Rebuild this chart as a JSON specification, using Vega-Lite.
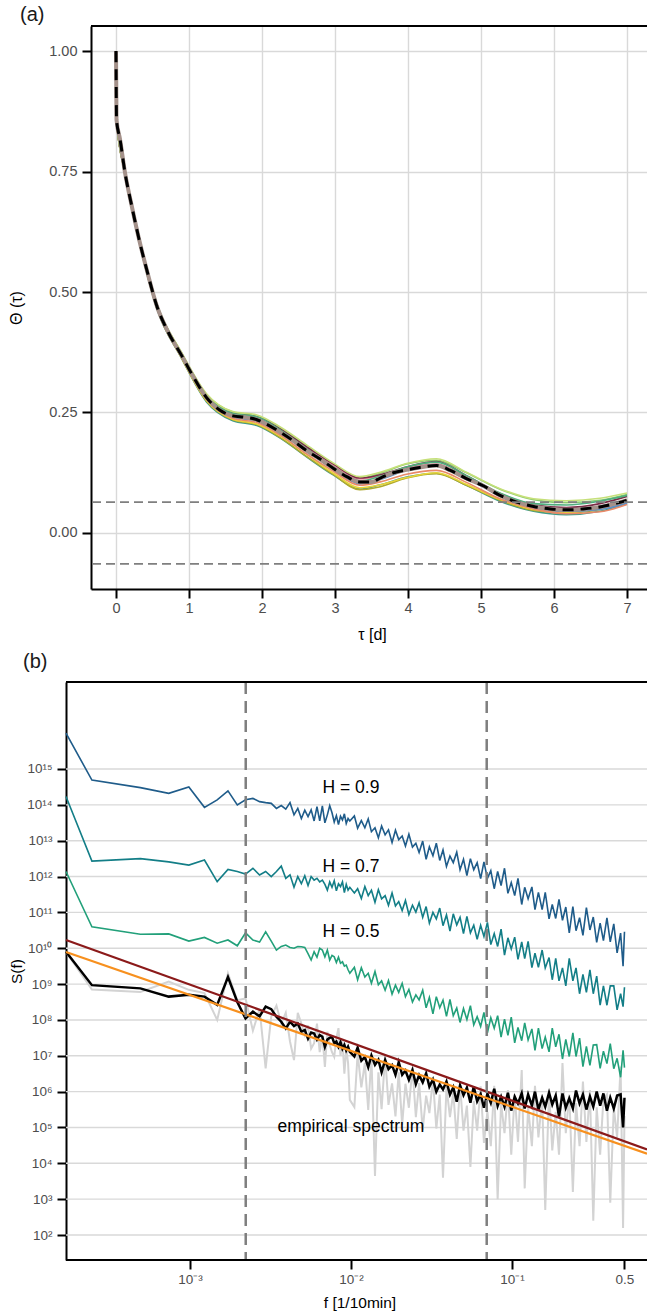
{
"$schema": "https://vega.github.io/schema/vega-lite/v6.json",
"padding": {"left": 8, "top": 5, "right": 0, "bottom": 0},
"config": {
 "font": "Liberation Sans",
 "view": {"stroke": null},
 "axis": {"domainColor": "#000000", "domainWidth": 2, "tickColor": "#000000", "tickWidth": 2, "tickSize": 9, "labelColor": "#4D4D4D", "titleColor": "#000000", "titleFontWeight": "normal", "gridColor": "#D9D9D9", "gridWidth": 1.4, "labelFont": "Liberation Sans", "titleFont": "Liberation Sans"},
 "title": {"fontWeight": "normal", "anchor": "start", "frame": "group", "color": "#1A1A1A", "fontSize": 20, "font": "Liberation Sans", "baseline": "alphabetic"}
},
"datasets": {
 "acfBase": [{"t":0,"v":1.0},{"t":0.007,"v":0.857},{"t":0.055,"v":0.817},{"t":0.123,"v":0.748},{"t":0.215,"v":0.679},{"t":0.315,"v":0.61},{"t":0.43,"v":0.541},{"t":0.557,"v":0.472},{"t":0.717,"v":0.416},{"t":0.9,"v":0.368},{"t":1.06,"v":0.324},{"t":1.24,"v":0.281},{"t":1.42,"v":0.255},{"t":1.6,"v":0.243},{"t":1.77,"v":0.24},{"t":1.93,"v":0.235},{"t":2.06,"v":0.226},{"t":2.25,"v":0.209},{"t":2.43,"v":0.191},{"t":2.61,"v":0.171},{"t":2.79,"v":0.154},{"t":2.98,"v":0.134},{"t":3.16,"v":0.117},{"t":3.34,"v":0.106},{"t":3.5,"v":0.106},{"t":3.62,"v":0.114},{"t":3.8,"v":0.125},{"t":3.98,"v":0.131},{"t":4.16,"v":0.136},{"t":4.39,"v":0.14},{"t":4.58,"v":0.13},{"t":4.8,"v":0.113},{"t":5.03,"v":0.098},{"t":5.26,"v":0.078},{"t":5.49,"v":0.064},{"t":5.72,"v":0.055},{"t":5.95,"v":0.05},{"t":6.17,"v":0.048},{"t":6.4,"v":0.05},{"t":6.63,"v":0.054},{"t":6.86,"v":0.062},{"t":7.0,"v":0.068}],
 "acfEns": [
  {"t":0,"m1":1.0,"m2":1.0,"m3":1.0,"m4":1.0,"m5":1.0,"m6":1.0,"m7":1.0,"m8":1.0,"m9":1.0,"m10":1.0},
  {"t":0.007,"m1":0.857,"m2":0.857,"m3":0.857,"m4":0.857,"m5":0.857,"m6":0.857,"m7":0.857,"m8":0.857,"m9":0.857,"m10":0.857},
  {"t":0.123,"m1":0.745,"m2":0.75,"m3":0.746,"m4":0.749,"m5":0.749,"m6":0.747,"m7":0.748,"m8":0.747,"m9":0.749,"m10":0.75},
  {"t":0.315,"m1":0.606,"m2":0.613,"m3":0.607,"m4":0.611,"m5":0.612,"m6":0.608,"m7":0.609,"m8":0.609,"m9":0.611,"m10":0.613},
  {"t":0.557,"m1":0.467,"m2":0.476,"m3":0.468,"m4":0.474,"m5":0.475,"m6":0.469,"m7":0.471,"m8":0.47,"m9":0.474,"m10":0.476},
  {"t":0.9,"m1":0.362,"m2":0.373,"m3":0.363,"m4":0.37,"m5":0.372,"m6":0.363,"m7":0.366,"m8":0.365,"m9":0.371,"m10":0.374},
  {"t":1.24,"m1":0.272,"m2":0.287,"m3":0.274,"m4":0.284,"m5":0.286,"m6":0.275,"m7":0.279,"m8":0.277,"m9":0.285,"m10":0.289},
  {"t":1.6,"m1":0.233,"m2":0.251,"m3":0.235,"m4":0.247,"m5":0.248,"m6":0.236,"m7":0.24,"m8":0.238,"m9":0.248,"m10":0.252},
  {"t":1.93,"m1":0.223,"m2":0.242,"m3":0.225,"m4":0.238,"m5":0.241,"m6":0.226,"m7":0.232,"m8":0.229,"m9":0.241,"m10":0.245},
  {"t":2.25,"m1":0.197,"m2":0.218,"m3":0.198,"m4":0.213,"m5":0.216,"m6":0.201,"m7":0.207,"m8":0.203,"m9":0.214,"m10":0.22},
  {"t":2.61,"m1":0.158,"m2":0.181,"m3":0.159,"m4":0.176,"m5":0.179,"m6":0.163,"m7":0.17,"m8":0.164,"m9":0.175,"m10":0.183},
  {"t":2.98,"m1":0.12,"m2":0.143,"m3":0.121,"m4":0.14,"m5":0.143,"m6":0.124,"m7":0.132,"m8":0.128,"m9":0.137,"m10":0.145},
  {"t":3.34,"m1":0.091,"m2":0.114,"m3":0.09,"m4":0.112,"m5":0.114,"m6":0.094,"m7":0.102,"m8":0.099,"m9":0.108,"m10":0.117},
  {"t":3.62,"m1":0.1,"m2":0.124,"m3":0.096,"m4":0.119,"m5":0.121,"m6":0.1,"m7":0.111,"m8":0.106,"m9":0.118,"m10":0.126},
  {"t":3.98,"m1":0.116,"m2":0.143,"m3":0.114,"m4":0.135,"m5":0.137,"m6":0.115,"m7":0.13,"m8":0.122,"m9":0.137,"m10":0.144},
  {"t":4.39,"m1":0.124,"m2":0.151,"m3":0.123,"m4":0.143,"m5":0.148,"m6":0.125,"m7":0.14,"m8":0.13,"m9":0.147,"m10":0.154},
  {"t":4.8,"m1":0.099,"m2":0.125,"m3":0.099,"m4":0.115,"m5":0.119,"m6":0.101,"m7":0.114,"m8":0.105,"m9":0.119,"m10":0.126},
  {"t":5.26,"m1":0.066,"m2":0.091,"m3":0.068,"m4":0.079,"m5":0.082,"m6":0.07,"m7":0.078,"m8":0.071,"m9":0.083,"m10":0.092},
  {"t":5.72,"m1":0.045,"m2":0.069,"m3":0.047,"m4":0.053,"m5":0.058,"m6":0.049,"m7":0.053,"m8":0.05,"m9":0.061,"m10":0.071},
  {"t":6.17,"m1":0.038,"m2":0.063,"m3":0.042,"m4":0.044,"m5":0.053,"m6":0.043,"m7":0.045,"m8":0.04,"m9":0.058,"m10":0.067},
  {"t":6.63,"m1":0.045,"m2":0.068,"m3":0.049,"m4":0.051,"m5":0.061,"m6":0.052,"m7":0.049,"m8":0.044,"m9":0.066,"m10":0.072},
  {"t":7.0,"m1":0.061,"m2":0.08,"m3":0.064,"m4":0.066,"m5":0.076,"m6":0.068,"m7":0.062,"m8":0.059,"m9":0.078,"m10":0.083}
 ],
 "spec": [
  {"f":0.0001698,"a":1e16,"b":1.7e14,"c":1.38e12,"k":7.94e9,"g":7.94e9},
  {"f":0.000246,"a":4.9e14,"b":2.69e12,"c":3.98e10,"k":9.33e8,"g":7.08e8},
  {"f":0.000492,"a":3.02e14,"b":3.16e12,"c":2.45e10,"k":7.59e8,"g":6.03e8},
  {"f":0.000738,"a":2.09e14,"b":2.57e12,"c":2.51e10,"k":4.47e8,"g":1.17e9},
  {"f":0.000984,"a":3.16e14,"b":2.09e12,"c":1.58e10,"k":5.01e8,"g":6.92e8},
  {"f":0.00123,"a":8.51e13,"b":2.88e12,"c":2.0e10,"k":4.47e8,"g":5.62e8},
  {"f":0.001476,"a":1.38e14,"b":7.24e11,"c":1.38e10,"k":2.63e8,"g":1.0e8},
  {"f":0.001722,"a":2.45e14,"b":1.58e12,"c":1.7e10,"k":1.58e9,"g":2.0e9},
  {"f":0.001968,"a":1.0e14,"b":1.38e12,"c":1.17e10,"k":3.16e8,"g":3.55e8},
  {"f":0.002214,"a":1.38e14,"b":1.17e12,"c":2.69e10,"k":1.1e8,"g":3.98e8},
  {"f":0.00246,"a":1.51e14,"b":1.7e12,"c":1.7e10,"k":1.7e8,"g":5.01e7},
  {"f":0.002706,"a":1.23e14,"b":1.1e12,"c":1.48e10,"k":1.26e8,"g":2.0e8},
  {"f":0.002952,"a":1.15e14,"b":1.38e12,"c":2.88e10,"k":2.34e8,"g":4.47e6},
  {"f":0.003198,"a":1.1e14,"b":1.0e12,"c":1.58e10,"k":2.0e8,"g":1.26e8},
  {"f":0.003444,"a":7.94e13,"b":1.38e12,"c":8.91e9,"k":1.23e8,"g":2.51e8},
  {"f":0.00369,"a":9.55e13,"b":1.95e12,"c":1.12e10,"k":8.91e7,"g":7.94e7},
  {"f":0.003936,"a":7.59e13,"b":8.91e11,"c":1.23e10,"k":5.75e7,"g":1.58e8},
  {"f":0.004182,"a":1.15e14,"b":1.12e12,"c":1.05e10,"k":8.91e7,"g":2.51e7},
  {"f":0.004428,"a":5.25e13,"b":5.01e11,"c":1.0e10,"k":6.76e7,"g":7.59e6},
  {"f":0.004674,"a":7.94e13,"b":1.0e12,"c":1.12e10,"k":7.94e7,"g":1.58e8},
  {"f":0.00492,"a":4.17e13,"b":6.31e11,"c":1.1e10,"k":4.68e7,"g":7.94e7},
  {"f":0.005166,"a":7.08e13,"b":1.05e12,"c":1.05e10,"k":5.25e7,"g":3.8e7},
  {"f":0.005412,"a":4.68e13,"b":5.62e11,"c":7.08e9,"k":3.02e7,"g":7.08e7},
  {"f":0.005658,"a":7.24e13,"b":1.0e12,"c":4.68e9,"k":4.47e7,"g":1.58e7},
  {"f":0.005904,"a":3.55e13,"b":7.94e11,"c":7.94e9,"k":4.17e7,"g":2.24e7},
  {"f":0.00615,"a":8.91e13,"b":8.91e11,"c":5.62e9,"k":2.82e7,"g":7.94e7},
  {"f":0.006396,"a":3.55e13,"b":7.08e11,"c":1.0e10,"k":3.8e7,"g":1.26e7},
  {"f":0.006642,"a":9.33e13,"b":7.94e11,"c":8.91e9,"k":3.39e7,"g":3.98e7},
  {"f":0.006888,"a":3.16e13,"b":6.03e11,"c":5.75e9,"k":1.78e7,"g":4.9e6},
  {"f":0.007134,"a":5.25e13,"b":4.17e11,"c":8.91e9,"k":2.82e7,"g":4.68e7},
  {"f":0.00738,"a":9.55e13,"b":7.08e11,"c":4.68e9,"k":3.16e7,"g":2.0e7},
  {"f":0.007626,"a":6.03e13,"b":5.01e11,"c":6.31e9,"k":3.39e7,"g":1.26e7},
  {"f":0.007872,"a":3.31e13,"b":7.59e11,"c":5.75e9,"k":2.24e7,"g":9.33e6},
  {"f":0.008118,"a":5.01e13,"b":3.98e11,"c":3.98e9,"k":2.51e7,"g":3.16e7},
  {"f":0.008364,"a":2.82e13,"b":6.31e11,"c":5.62e9,"k":1.78e7,"g":5.89e7},
  {"f":0.00861,"a":4.79e13,"b":5.25e11,"c":3.8e9,"k":2.4e7,"g":1.0e7},
  {"f":0.008856,"a":3.8e13,"b":7.08e11,"c":4.17e9,"k":1.58e7,"g":2.51e7},
  {"f":0.009102,"a":5.62e13,"b":3.55e11,"c":3.16e9,"k":2.0e7,"g":3.16e6},
  {"f":0.009348,"a":3.02e13,"b":6.03e11,"c":3.39e9,"k":1.41e7,"g":1.58e7},
  {"f":0.009594,"a":4.17e13,"b":4.17e11,"c":2.51e9,"k":1.78e7,"g":6.31e6},
  {"f":0.00984,"a":3.55e13,"b":5.01e11,"c":2.0e9,"k":1.29e7,"g":5.89e5},
  {"f":0.0105,"a":4.9e13,"b":3.47e11,"c":2.95e9,"k":9.55e6,"g":3.72e5},
  {"f":0.011,"a":2.24e13,"b":4.57e11,"c":1.32e9,"k":1.7e7,"g":1.15e7},
  {"f":0.0116,"a":3.63e13,"b":2.45e11,"c":2.88e9,"k":7.24e6,"g":1.32e6},
  {"f":0.0122,"a":2.29e13,"b":5.25e11,"c":1.58e9,"k":9.33e6,"g":6.31e6},
  {"f":0.0128,"a":4.07e13,"b":2.95e11,"c":2.0e9,"k":4.79e6,"g":3.09e5},
  {"f":0.0134,"a":1.78e13,"b":4.17e11,"c":1.05e9,"k":1.02e7,"g":9.55e6},
  {"f":0.0141,"a":2.29e13,"b":1.91e11,"c":2.24e9,"k":5.62e6,"g":4.47e3},
  {"f":0.0148,"a":1.2e13,"b":4.27e11,"c":9.55e8,"k":7.76e6,"g":3.47e6},
  {"f":0.0155,"a":2.57e13,"b":2.4e11,"c":1.23e9,"k":3.47e6,"g":3.24e5},
  {"f":0.0163,"a":1.45e13,"b":2.95e11,"c":6.76e8,"k":7.59e6,"g":1.0e7},
  {"f":0.0171,"a":2.0e13,"b":1.58e11,"c":1.26e9,"k":4.27e6,"g":4.27e5},
  {"f":0.018,"a":8.91e12,"b":3.47e11,"c":5.25e8,"k":5.5e6,"g":1.7e6},
  {"f":0.0189,"a":1.95e13,"b":1.51e11,"c":9.33e8,"k":2.95e6,"g":2.04e5},
  {"f":0.0198,"a":1.07e13,"b":2.0e11,"c":5.89e8,"k":6.61e6,"g":3.47e6},
  {"f":0.0208,"a":1.35e13,"b":1.12e11,"c":1.05e9,"k":2.95e6,"g":1.2e5},
  {"f":0.0218,"a":7.08e12,"b":2.14e11,"c":4.47e8,"k":3.89e6,"g":1.66e6},
  {"f":0.0229,"a":1.51e13,"b":8.71e10,"c":7.08e8,"k":2.14e6,"g":3.55e5},
  {"f":0.0241,"a":6.61e12,"b":1.58e11,"c":3.16e8,"k":3.98e6,"g":4.79e6},
  {"f":0.0253,"a":8.51e12,"b":1.02e11,"c":5.01e8,"k":1.62e6,"g":1.95e5},
  {"f":0.0265,"a":4.68e12,"b":1.86e11,"c":3.63e8,"k":2.88e6,"g":1.74e6},
  {"f":0.0279,"a":9.77e12,"b":7.24e10,"c":6.76e8,"k":1.82e6,"g":8.71e4},
  {"f":0.0293,"a":3.02e12,"b":1.45e11,"c":2.19e8,"k":3.24e6,"g":7.76e5},
  {"f":0.0307,"a":6.76e12,"b":5.01e10,"c":4.27e8,"k":1.38e6,"g":2.51e5},
  {"f":0.0323,"a":3.8e12,"b":1.0e11,"c":1.48e8,"k":2.19e6,"g":2.24e6},
  {"f":0.0339,"a":8.51e12,"b":6.61e10,"c":4.47e8,"k":1.0e6,"g":9.33e4},
  {"f":0.0356,"a":2.82e12,"b":1.32e11,"c":2.19e8,"k":1.58e6,"g":8.32e5},
  {"f":0.0373,"a":5.5e12,"b":4.27e10,"c":3.55e8,"k":1.15e6,"g":3.98e3},
  {"f":0.0392,"a":1.91e12,"b":8.51e10,"c":1.26e8,"k":1.91e6,"g":1.35e6},
  {"f":0.0412,"a":3.72e12,"b":3.02e10,"c":3.72e8,"k":8.32e5,"g":1.95e5},
  {"f":0.0432,"a":2.45e12,"b":9.12e10,"c":1.32e8,"k":1.32e6,"g":9.33e5},
  {"f":0.0454,"a":4.79e12,"b":4.47e10,"c":2.14e8,"k":5.25e5,"g":4.79e4},
  {"f":0.0476,"a":1.55e12,"b":7.24e10,"c":8.51e7,"k":1.51e6,"g":1.55e6},
  {"f":0.05,"a":3.02e12,"b":2.57e10,"c":2.09e8,"k":7.94e5,"g":8.13e4},
  {"f":0.0525,"a":1.07e12,"b":7.76e10,"c":1.02e8,"k":1.29e6,"g":4.07e5},
  {"f":0.0552,"a":3.16e12,"b":2.69e10,"c":2.51e8,"k":4.9e5,"g":7.94e3},
  {"f":0.0579,"a":1.55e12,"b":4.37e10,"c":7.24e7,"k":1.38e6,"g":5.5e5},
  {"f":0.0608,"a":2.45e12,"b":1.78e10,"c":1.23e8,"k":5.37e5,"g":8.13e4},
  {"f":0.0639,"a":8.71e11,"b":4.37e10,"c":6.61e7,"k":8.51e5,"g":1.41e6},
  {"f":0.067,"a":2.57e12,"b":2.14e10,"c":1.62e8,"k":3.55e5,"g":3.72e4},
  {"f":0.0704,"a":8.91e11,"b":5.25e10,"c":4.37e7,"k":8.71e5,"g":2.75e5},
  {"f":0.0739,"a":1.45e12,"b":1.26e10,"c":1.15e8,"k":4.9e5,"g":3.02e4},
  {"f":0.0776,"a":4.57e11,"b":2.57e10,"c":5.89e7,"k":1.2e6,"g":1.45e6},
  {"f":0.0815,"a":1.38e12,"b":1.12e10,"c":1.32e8,"k":3.98e5,"g":1.0e3},
  {"f":0.0856,"a":5.62e11,"b":3.39e10,"c":3.31e7,"k":7.24e5,"g":4.79e5},
  {"f":0.0899,"a":1.7e12,"b":6.46e9,"c":1.05e8,"k":3.8e5,"g":6.92e4},
  {"f":0.0944,"a":3.39e11,"b":1.95e10,"c":3.72e7,"k":9.33e5,"g":1.1e6},
  {"f":0.099,"a":6.76e11,"b":9.55e9,"c":1.2e8,"k":2.95e5,"g":1.74e4},
  {"f":0.104,"a":2.95e11,"b":2.04e10,"c":2.29e7,"k":7.24e5,"g":8.32e5},
  {"f":0.109,"a":8.91e11,"b":4.9e9,"c":6.17e7,"k":4.68e5,"g":3.98e4},
  {"f":0.115,"a":1.66e11,"b":1.51e10,"c":2.63e7,"k":8.91e5,"g":3.98e6},
  {"f":0.12,"a":5.01e11,"b":5.13e9,"c":8.32e7,"k":3.39e5,"g":2.0e3},
  {"f":0.126,"a":2.4e11,"b":1.55e10,"c":2.75e7,"k":8.32e5,"g":3.63e5},
  {"f":0.133,"a":5.13e11,"b":2.88e9,"c":5.62e7,"k":4.07e5,"g":3.02e4},
  {"f":0.139,"a":1.2e11,"b":7.24e9,"c":1.41e7,"k":1.0e6,"g":1.45e6},
  {"f":0.146,"a":3.63e11,"b":2.95e9,"c":5.89e7,"k":3.16e5,"g":5.25e4},
  {"f":0.154,"a":1.2e11,"b":8.91e9,"c":1.58e7,"k":6.76e5,"g":6.31e5},
  {"f":0.161,"a":3.63e11,"b":2.82e9,"c":3.31e7,"k":3.8e5,"g":5.01e2},
  {"f":0.17,"a":6.61e10,"b":5.5e9,"c":1.29e7,"k":9.33e5,"g":1.1e6},
  {"f":0.178,"a":1.66e11,"b":1.32e9,"c":5.89e7,"k":4.37e5,"g":2.29e4},
  {"f":0.187,"a":6.76e10,"b":5.25e9,"c":1.78e7,"k":7.76e5,"g":2.75e5},
  {"f":0.196,"a":2.29e11,"b":1.23e9,"c":3.98e7,"k":2.0e5,"g":1.74e4},
  {"f":0.206,"a":6.03e10,"b":2.82e9,"c":8.13e6,"k":8.91e5,"g":6.31e6},
  {"f":0.216,"a":1.41e11,"b":8.91e8,"c":2.88e7,"k":3.55e5,"g":6.92e4},
  {"f":0.227,"a":2.69e10,"b":5.25e9,"c":9.55e6,"k":6.46e5,"g":8.32e5},
  {"f":0.239,"a":1.45e11,"b":1.23e9,"c":4.37e7,"k":3.39e5,"g":1.58e3},
  {"f":0.25,"a":3.09e10,"b":2.82e9,"c":9.55e6,"k":1.07e6,"g":4.79e5},
  {"f":0.263,"a":7.08e10,"b":5.37e8,"c":3.09e7,"k":4.68e5,"g":3.02e4},
  {"f":0.276,"a":2.29e10,"b":1.86e9,"c":5.01e6,"k":8.32e5,"g":1.91e6},
  {"f":0.29,"a":1.35e11,"b":5.89e8,"c":1.82e7,"k":3.16e5,"g":3.98e4},
  {"f":0.305,"a":3.24e10,"b":2.51e9,"c":5.37e6,"k":7.24e5,"g":1.1e6},
  {"f":0.32,"a":7.41e10,"b":5.37e8,"c":2.0e7,"k":3.8e5,"g":2.51e2},
  {"f":0.336,"a":1.45e10,"b":1.66e9,"c":2.04e7,"k":1.0e6,"g":3.63e5},
  {"f":0.353,"a":5.01e10,"b":2.57e8,"c":4.47e6,"k":4.07e5,"g":1.74e4},
  {"f":0.37,"a":1.62e10,"b":8.91e8,"c":1.35e7,"k":8.91e5,"g":6.31e5},
  {"f":0.389,"a":7.08e10,"b":2.57e8,"c":6.03e6,"k":2.95e5,"g":8.32e5},
  {"f":0.408,"a":1.51e10,"b":8.91e8,"c":2.19e7,"k":6.76e5,"g":7.94e2},
  {"f":0.429,"a":4.79e10,"b":8.91e8,"c":4.37e6,"k":3.39e5,"g":3.63e5},
  {"f":0.45,"a":7.41e9,"b":1.91e8,"c":8.51e6,"k":7.76e5,"g":5.25e4},
  {"f":0.473,"a":2.63e10,"b":5.37e8,"c":2.51e6,"k":8.32e5,"g":5.01e6},
  {"f":0.49,"a":3.16e9,"b":2.34e8,"c":1.41e7,"k":1.0e5,"g":1.58e2},
  {"f":0.5,"a":2.88e10,"b":8.13e8,"c":4.68e6,"k":6.76e5,"g":2.09e5}
 ]
},
"spacing": 9,
"vconcat": [
 {
  "width": 556,
  "height": 563,
  "title": {"text": "(a)", "dx": -71, "offset": 0},
  "layer": [
   {
    "data": {"name": "acfEns"},
    "transform": [{"fold": ["m1","m2","m3","m4","m5","m6","m7","m8","m9","m10"], "as": ["member", "v"]}],
    "mark": {"type": "line", "interpolate": "monotone", "strokeWidth": 1.6},
    "encoding": {
     "x": {"field": "t", "type": "quantitative", "scale": {"domain": [-0.3425, 7.274], "nice": false, "zero": false},
      "axis": {"values": [0,1,2,3,4,5,6,7], "format": "d", "title": "τ [d]", "titleFontSize": 16, "labelFontSize": 14.5, "labelPadding": 3, "labelFlush": false, "titleX": 281, "titleY": 45, "titleBaseline": "middle", "titleAlign": "center"}},
     "y": {"field": "v", "type": "quantitative", "scale": {"domain": [-0.1162, 1.0519], "nice": false, "zero": false},
      "axis": {"values": [0, 0.25, 0.5, 0.75, 1.0], "format": ".2f", "title": "Θ (τ)", "titleFontSize": 16, "labelFontSize": 14.5, "labelPadding": 5, "labelFlush": false, "titleX": -83, "titleY": 281.5, "titleBaseline": "top", "titleAlign": "center", "titleAngle": -90}},
     "color": {"field": "member", "type": "nominal", "legend": null,
      "scale": {"domain": ["m1","m2","m3","m4","m5","m6","m7","m8","m9","m10"], "range": ["#3E9A8A","#8CCB6E","#AEA92E","#F28CA0","#7B2C47","#E8D53A","#5B8FC9","#E98968","#4FAE7E","#C6E07A"]}}
    }
   },
   {
    "data": {"name": "acfBase"},
    "mark": {"type": "line", "interpolate": "monotone", "color": "#A4918A", "strokeWidth": 4},
    "encoding": {
     "x": {"field": "t", "type": "quantitative", "scale": {"domain": [-0.3425, 7.274], "nice": false, "zero": false}},
     "y": {"field": "v", "type": "quantitative", "scale": {"domain": [-0.1162, 1.0519], "nice": false, "zero": false}}
    }
   },
   {
    "data": {"name": "acfBase"},
    "mark": {"type": "line", "interpolate": "monotone", "color": "#000000", "strokeWidth": 3, "strokeDash": [11, 7]},
    "encoding": {
     "x": {"field": "t", "type": "quantitative", "scale": {"domain": [-0.3425, 7.274], "nice": false, "zero": false}},
     "y": {"field": "v", "type": "quantitative", "scale": {"domain": [-0.1162, 1.0519], "nice": false, "zero": false}}
    }
   },
   {
    "data": {"values": [{"h": 0.064}, {"h": -0.064}]},
    "mark": {"type": "rule", "color": "#7F7F7F", "strokeWidth": 1.8, "strokeDash": [9, 5]},
    "encoding": {
     "y": {"field": "h", "type": "quantitative", "scale": {"domain": [-0.1162, 1.0519], "nice": false, "zero": false}}
    }
   },
   {
    "data": {"values": [{}]},
    "mark": {"type": "rule", "color": "#000000", "strokeWidth": 2},
    "encoding": {"y": {"datum": 1.0519}}
   }
  ]
 },
 {
  "width": 556,
  "height": 578,
  "title": {"text": "(b)", "dx": -68, "offset": 9},
  "layer": [
   {
    "data": {"values": [{"gv": 1e2}, {"gv": 1e3}, {"gv": 1e4}, {"gv": 1e5}, {"gv": 1e6}, {"gv": 1e7}, {"gv": 1e8}, {"gv": 1e9}, {"gv": 1e10}, {"gv": 1e11}, {"gv": 1e12}, {"gv": 1e13}, {"gv": 1e14}, {"gv": 1e15}]},
    "mark": {"type": "rule", "color": "#D9D9D9", "strokeWidth": 1.4},
    "encoding": {
     "x": {"datum": 0.0001698, "type": "quantitative", "scale": {"type": "log", "domain": [0.0002428, 0.69], "nice": false}},
     "x2": {"datum": 0.69},
     "y": {"field": "gv", "type": "quantitative", "scale": {"type": "log", "domain": [20.1, 2.67e17], "nice": false}}
    }
   },
   {
    "data": {"name": "spec"},
    "mark": {"type": "line", "color": "#D3D3D3", "strokeWidth": 2},
    "encoding": {
     "x": {"field": "f", "type": "quantitative", "scale": {"type": "log", "domain": [0.0002428, 0.69], "nice": false},
      "axis": {"values": [0.001, 0.01, 0.1, 0.5], "labelExpr": "datum.value > 0.3 ? '0.5' : '10' + ['⁻³','⁻²','⁻¹'][round(log(datum.value)/LN10) + 3]", "domain": false, "title": "f [1/10min]", "titleFontSize": 15.5, "labelFontSize": 13.5, "labelPadding": 3, "labelFlush": false, "titleX": 268.5, "titleY": 42, "titleBaseline": "middle", "titleAlign": "center"}},
     "y": {"field": "g", "type": "quantitative", "scale": {"type": "log", "domain": [20.1, 2.67e17], "nice": false},
      "axis": {"values": [1e2,1e3,1e4,1e5,1e6,1e7,1e8,1e9,1e10,1e11,1e12,1e13,1e14,1e15], "labelExpr": "'10' + ['²','³','⁴','⁵','⁶','⁷','⁸','⁹','¹⁰','¹¹','¹²','¹³','¹⁴','¹⁵'][round(log(datum.value)/LN10) - 2]", "grid": false, "offset": 25, "title": "S(f)", "titleFontSize": 15.5, "labelFontSize": 13.5, "labelPadding": 5, "labelFlush": false, "titleX": -57, "titleY": 289, "titleBaseline": "top", "titleAlign": "center", "titleAngle": -90}}
    }
   },
   {
    "data": {"name": "spec"},
    "mark": {"type": "line", "color": "#000000", "strokeWidth": 2.5},
    "encoding": {
     "x": {"field": "f", "type": "quantitative", "scale": {"type": "log", "domain": [0.0002428, 0.69], "nice": false}},
     "y": {"field": "k", "type": "quantitative", "scale": {"type": "log", "domain": [20.1, 2.67e17], "nice": false}}
    }
   },
   {
    "data": {"name": "spec"},
    "mark": {"type": "line", "color": "#22A07A", "strokeWidth": 1.6},
    "encoding": {
     "x": {"field": "f", "type": "quantitative", "scale": {"type": "log", "domain": [0.0002428, 0.69], "nice": false}},
     "y": {"field": "c", "type": "quantitative", "scale": {"type": "log", "domain": [20.1, 2.67e17], "nice": false}}
    }
   },
   {
    "data": {"name": "spec"},
    "mark": {"type": "line", "color": "#137E87", "strokeWidth": 1.6},
    "encoding": {
     "x": {"field": "f", "type": "quantitative", "scale": {"type": "log", "domain": [0.0002428, 0.69], "nice": false}},
     "y": {"field": "b", "type": "quantitative", "scale": {"type": "log", "domain": [20.1, 2.67e17], "nice": false}}
    }
   },
   {
    "data": {"name": "spec"},
    "mark": {"type": "line", "color": "#1F5C8A", "strokeWidth": 1.6},
    "encoding": {
     "x": {"field": "f", "type": "quantitative", "scale": {"type": "log", "domain": [0.0002428, 0.69], "nice": false}},
     "y": {"field": "a", "type": "quantitative", "scale": {"type": "log", "domain": [20.1, 2.67e17], "nice": false}}
    }
   },
   {
    "data": {"values": [{"f": 0.0001698, "S": 1.7e10}, {"f": 0.69, "S": 2.45e4}]},
    "mark": {"type": "line", "strokeWidth": 2.2, "color": "#8B1A1A"},
    "encoding": {
     "x": {"field": "f", "type": "quantitative", "scale": {"type": "log", "domain": [0.0002428, 0.69], "nice": false}},
     "y": {"field": "S", "type": "quantitative", "scale": {"type": "log", "domain": [20.1, 2.67e17], "nice": false}}
    }
   },
   {
    "data": {"values": [{"f": 0.0001698, "S": 7.85e9}, {"f": 0.69, "S": 1.86e4}]},
    "mark": {"type": "line", "strokeWidth": 2.2, "color": "#F7901E"},
    "encoding": {
     "x": {"field": "f", "type": "quantitative", "scale": {"type": "log", "domain": [0.0002428, 0.69], "nice": false}},
     "y": {"field": "S", "type": "quantitative", "scale": {"type": "log", "domain": [20.1, 2.67e17], "nice": false}}
    }
   },
   {
    "data": {"values": [{"f": 0.00222}, {"f": 0.0697}]},
    "mark": {"type": "rule", "color": "#7F7F7F", "strokeWidth": 2.5, "strokeDash": [12, 7]},
    "encoding": {
     "x": {"field": "f", "type": "quantitative", "scale": {"type": "log", "domain": [0.0002428, 0.69], "nice": false}}
    }
   },
   {
    "data": {"values": [{"f": 0.01, "S": 3e14, "label": "H = 0.9"}, {"f": 0.01, "S": 1.9e12, "label": "H = 0.7"}, {"f": 0.01, "S": 2.9e10, "label": "H = 0.5"}, {"f": 0.01, "S": 1e5, "label": "empirical spectrum"}]},
    "mark": {"type": "text", "fontSize": 17.5, "color": "#000000", "font": "Liberation Sans"},
    "encoding": {
     "x": {"field": "f", "type": "quantitative", "scale": {"type": "log", "domain": [0.0002428, 0.69], "nice": false}},
     "y": {"field": "S", "type": "quantitative", "scale": {"type": "log", "domain": [20.1, 2.67e17], "nice": false}},
     "text": {"field": "label"}
    }
   },
   {
    "data": {"values": [{"fy": 20.1}, {"fy": 2.67e17}]},
    "mark": {"type": "rule", "color": "#000000", "strokeWidth": 2},
    "encoding": {
     "x": {"datum": 0.0001698, "type": "quantitative", "scale": {"type": "log", "domain": [0.0002428, 0.69], "nice": false}},
     "x2": {"datum": 0.69},
     "y": {"field": "fy", "type": "quantitative", "scale": {"type": "log", "domain": [20.1, 2.67e17], "nice": false}}
    }
   }
  ]
 }
]
}
